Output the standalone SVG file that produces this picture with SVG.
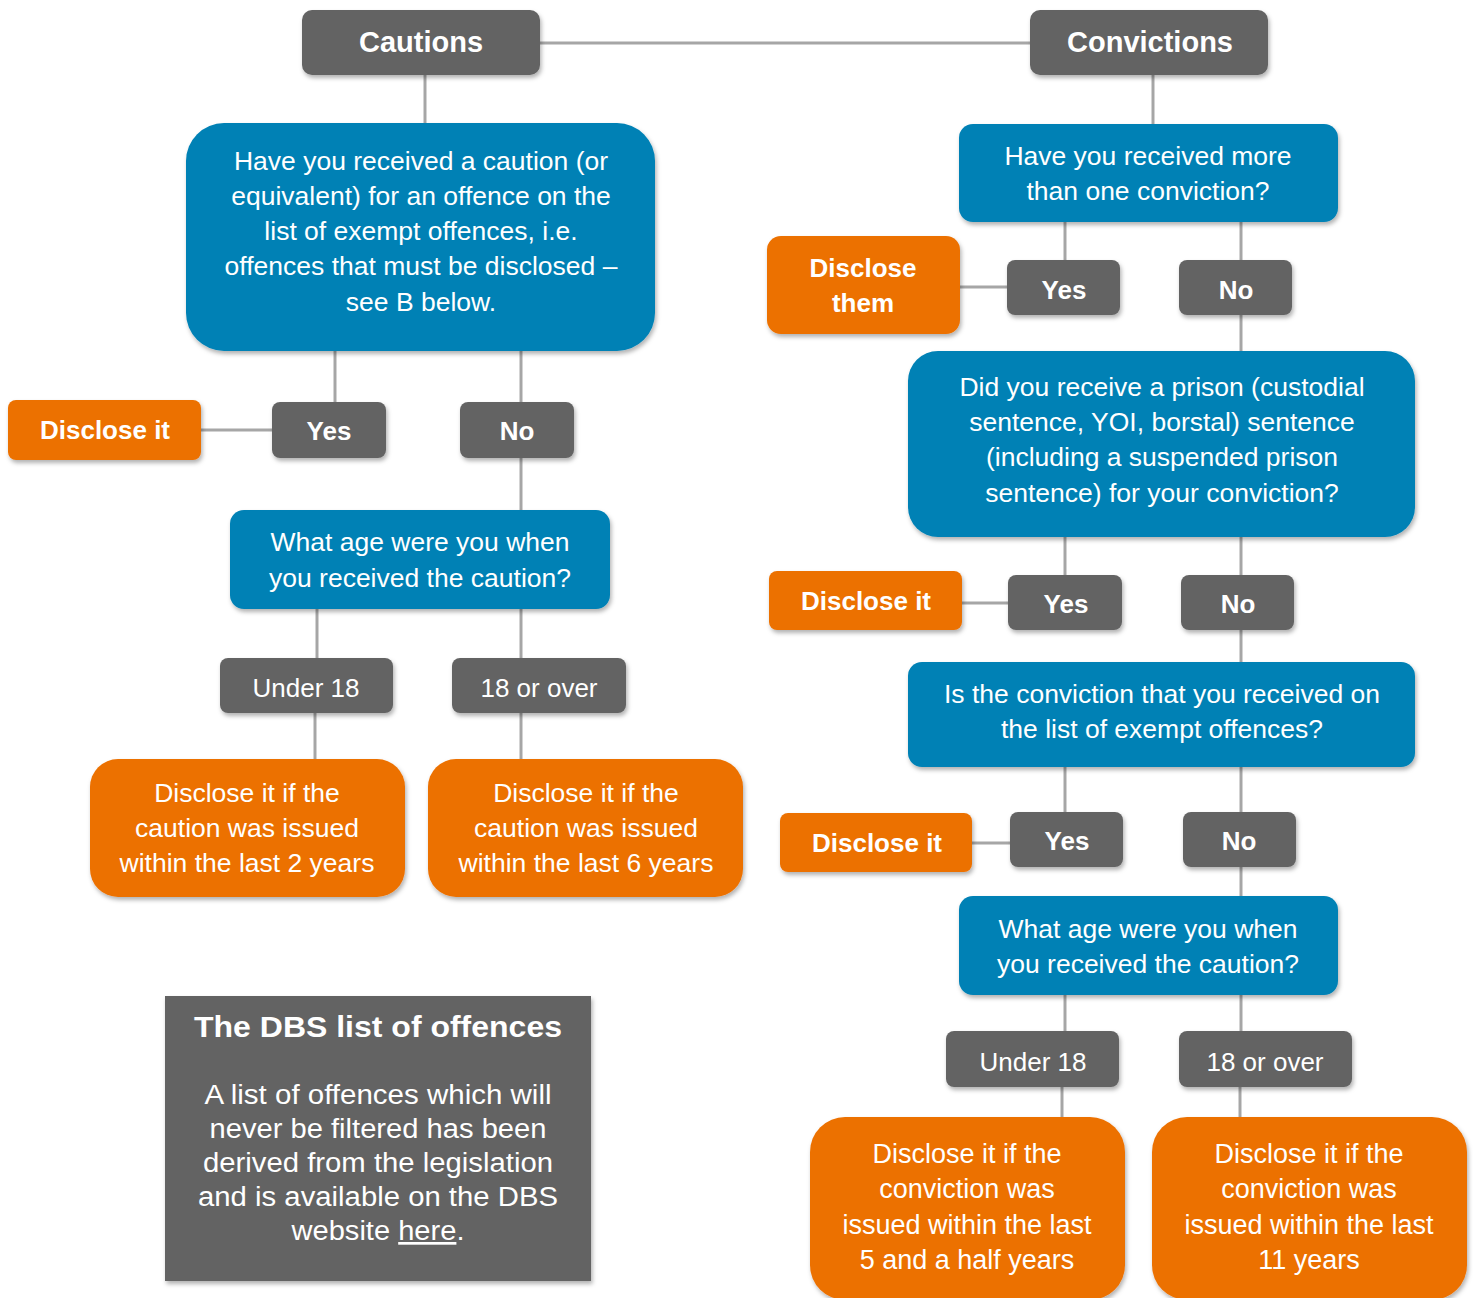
<svg xmlns="http://www.w3.org/2000/svg" width="1473" height="1298" viewBox="0 0 1473 1298">
<defs>
<filter id="sh" x="-10%" y="-10%" width="125%" height="130%">
<feDropShadow dx="1.5" dy="3" stdDeviation="2" flood-color="#000" flood-opacity="0.3"/>
</filter>
<style>
.g{fill:#646464;filter:url(#sh)}
.b{fill:#0081B5;filter:url(#sh)}
.o{fill:#EC7104;filter:url(#sh)}
.c line{stroke:#A6A6A6;stroke-width:3}
text{font-family:"Liberation Sans",Arial,sans-serif;fill:#fff;text-anchor:middle}
.t{font-size:26.5px}
.l{font-size:26px}
.tb{font-size:26px;font-weight:bold}
.h{font-size:29px;font-weight:bold}
.r{font-size:27px}
</style>
</defs>
<rect width="1473" height="1298" fill="#fff"/>
<g class="c" id="connectors">
<line x1="540" y1="43" x2="1030" y2="43"/>
<line x1="425" y1="75" x2="425" y2="124"/>
<line x1="335" y1="351" x2="335" y2="402"/>
<line x1="521" y1="351" x2="521" y2="402"/>
<line x1="201" y1="430" x2="272" y2="430"/>
<line x1="521" y1="458" x2="521" y2="510"/>
<line x1="317" y1="609" x2="317" y2="658"/>
<line x1="521" y1="609" x2="521" y2="658"/>
<line x1="315" y1="713" x2="315" y2="759"/>
<line x1="521" y1="713" x2="521" y2="759"/>
<line x1="1153" y1="75" x2="1153" y2="124"/>
<line x1="1065" y1="222" x2="1065" y2="260"/>
<line x1="1241" y1="222" x2="1241" y2="260"/>
<line x1="960" y1="287" x2="1007" y2="287"/>
<line x1="1241" y1="315" x2="1241" y2="351"/>
<line x1="1065" y1="537" x2="1065" y2="575"/>
<line x1="1241" y1="537" x2="1241" y2="575"/>
<line x1="962" y1="603" x2="1008" y2="603"/>
<line x1="1241" y1="630" x2="1241" y2="662"/>
<line x1="1065" y1="767" x2="1065" y2="812"/>
<line x1="1241" y1="767" x2="1241" y2="812"/>
<line x1="972" y1="843" x2="1010" y2="843"/>
<line x1="1241" y1="867" x2="1241" y2="896"/>
<line x1="1065" y1="995" x2="1065" y2="1031"/>
<line x1="1241" y1="995" x2="1241" y2="1031"/>
<line x1="1062" y1="1087" x2="1062" y2="1117"/>
<line x1="1240" y1="1087" x2="1240" y2="1117"/>
</g>

<g id="cautions"><rect class="g" x="302" y="10" width="238" height="65" rx="10"/><text class="h" x="421" y="52">Cautions</text></g>
<g id="convictions"><rect class="g" x="1030" y="10" width="238" height="65" rx="10"/><text class="h" x="1150" y="52">Convictions</text></g>

<g id="q-caution-exempt"><rect class="b" x="186" y="123" width="469" height="228" rx="38"/>
<text class="t" x="421"><tspan x="421" y="170">Have you received a caution (or</tspan><tspan x="421" y="205">equivalent) for an offence on the</tspan><tspan x="421" y="240">list of exempt offences, i.e.</tspan><tspan x="421" y="275">offences that must be disclosed –</tspan><tspan x="421" y="311">see B below.</tspan></text></g>
<g id="disclose-1"><rect class="o" x="8" y="400" width="193" height="60" rx="8"/><text class="tb" x="105" y="439">Disclose it</text></g>
<g id="yes-1"><rect class="g" x="272" y="402" width="114" height="56" rx="8"/><text class="tb" x="329" y="440">Yes</text></g>
<g id="no-1"><rect class="g" x="460" y="402" width="114" height="56" rx="8"/><text class="tb" x="517" y="440">No</text></g>
<g id="q-caution-age"><rect class="b" x="230" y="510" width="380" height="99" rx="14"/>
<text class="t"><tspan x="420" y="551">What age were you when</tspan><tspan x="420" y="587">you received the caution?</tspan></text></g>
<g id="under18-1"><rect class="g" x="220" y="658" width="173" height="55" rx="8"/><text class="l" x="306" y="697">Under 18</text></g>
<g id="over18-1"><rect class="g" x="452" y="658" width="174" height="55" rx="8"/><text class="l" x="539" y="697">18 or over</text></g>
<g id="caution-2y"><rect class="o" x="90" y="759" width="315" height="138" rx="28"/>
<text class="t"><tspan x="247" y="802">Disclose it if the</tspan><tspan x="247" y="837">caution was issued</tspan><tspan x="247" y="872">within the last 2 years</tspan></text></g>
<g id="caution-6y"><rect class="o" x="428" y="759" width="315" height="138" rx="28"/>
<text class="t"><tspan x="586" y="802">Disclose it if the</tspan><tspan x="586" y="837">caution was issued</tspan><tspan x="586" y="872">within the last 6 years</tspan></text></g>

<g id="dbs-list"><rect x="165" y="996" width="426" height="285" fill="#646464" filter="url(#sh)"/>
<text x="378" y="1037" font-size="30" font-weight="bold" textLength="368" lengthAdjust="spacingAndGlyphs">The DBS list of offences</text>
<text x="378" y="1104" font-size="27" textLength="347" lengthAdjust="spacingAndGlyphs">A list of offences which will</text>
<text x="378" y="1138" font-size="27" textLength="337" lengthAdjust="spacingAndGlyphs">never be filtered has been</text>
<text x="378" y="1172" font-size="27" textLength="350" lengthAdjust="spacingAndGlyphs">derived from the legislation</text>
<text x="378" y="1206" font-size="27" textLength="360" lengthAdjust="spacingAndGlyphs">and is available on the DBS</text>
<text x="378" y="1240" font-size="27" textLength="173" lengthAdjust="spacingAndGlyphs">website <tspan text-decoration="underline">here</tspan>.</text></g>

<g id="q-more-than-one"><rect class="b" x="959" y="124" width="379" height="98" rx="14"/>
<text class="t"><tspan x="1148" y="165">Have you received more</tspan><tspan x="1148" y="200">than one conviction?</tspan></text></g>
<g id="disclose-them"><rect class="o" x="767" y="236" width="193" height="98" rx="14"/>
<text class="tb"><tspan x="863" y="277">Disclose</tspan><tspan x="863" y="312">them</tspan></text></g>
<g id="yes-2"><rect class="g" x="1007" y="260" width="113" height="55" rx="8"/><text class="tb" x="1064" y="299">Yes</text></g>
<g id="no-2"><rect class="g" x="1179" y="260" width="113" height="55" rx="8"/><text class="tb" x="1236" y="299">No</text></g>
<g id="q-prison"><rect class="b" x="908" y="351" width="507" height="186" rx="30"/>
<text class="t"><tspan x="1162" y="396">Did you receive a prison (custodial</tspan><tspan x="1162" y="431">sentence, YOI, borstal) sentence</tspan><tspan x="1162" y="466">(including a suspended prison</tspan><tspan x="1162" y="502">sentence) for your conviction?</tspan></text></g>
<g id="disclose-2"><rect class="o" x="769" y="571" width="193" height="59" rx="8"/><text class="tb" x="866" y="610">Disclose it</text></g>
<g id="yes-3"><rect class="g" x="1008" y="575" width="114" height="55" rx="8"/><text class="tb" x="1066" y="613">Yes</text></g>
<g id="no-3"><rect class="g" x="1181" y="575" width="113" height="55" rx="8"/><text class="tb" x="1238" y="613">No</text></g>
<g id="q-conviction-exempt"><rect class="b" x="908" y="662" width="507" height="105" rx="14"/>
<text class="t"><tspan x="1162" y="703">Is the conviction that you received on</tspan><tspan x="1162" y="738">the list of exempt offences?</tspan></text></g>
<g id="disclose-3"><rect class="o" x="780" y="813" width="192" height="59" rx="8"/><text class="tb" x="877" y="852">Disclose it</text></g>
<g id="yes-4"><rect class="g" x="1010" y="812" width="113" height="55" rx="8"/><text class="tb" x="1067" y="850">Yes</text></g>
<g id="no-4"><rect class="g" x="1183" y="812" width="113" height="55" rx="8"/><text class="tb" x="1239" y="850">No</text></g>
<g id="q-conviction-age"><rect class="b" x="959" y="896" width="379" height="99" rx="14"/>
<text class="t"><tspan x="1148" y="938">What age were you when</tspan><tspan x="1148" y="973">you received the caution?</tspan></text></g>
<g id="under18-2"><rect class="g" x="946" y="1031" width="173" height="56" rx="8"/><text class="l" x="1033" y="1071">Under 18</text></g>
<g id="over18-2"><rect class="g" x="1179" y="1031" width="173" height="56" rx="8"/><text class="l" x="1265" y="1071">18 or over</text></g>
<g id="conviction-5y"><rect class="o" x="810" y="1117" width="315" height="183" rx="35"/>
<text class="r"><tspan x="967" y="1163">Disclose it if the</tspan><tspan x="967" y="1198">conviction was</tspan><tspan x="967" y="1234">issued within the last</tspan><tspan x="967" y="1269">5 and a half years</tspan></text></g>
<g id="conviction-11y"><rect class="o" x="1152" y="1117" width="315" height="183" rx="35"/>
<text class="r"><tspan x="1309" y="1163">Disclose it if the</tspan><tspan x="1309" y="1198">conviction was</tspan><tspan x="1309" y="1234">issued within the last</tspan><tspan x="1309" y="1269">11 years</tspan></text></g>
</svg>
